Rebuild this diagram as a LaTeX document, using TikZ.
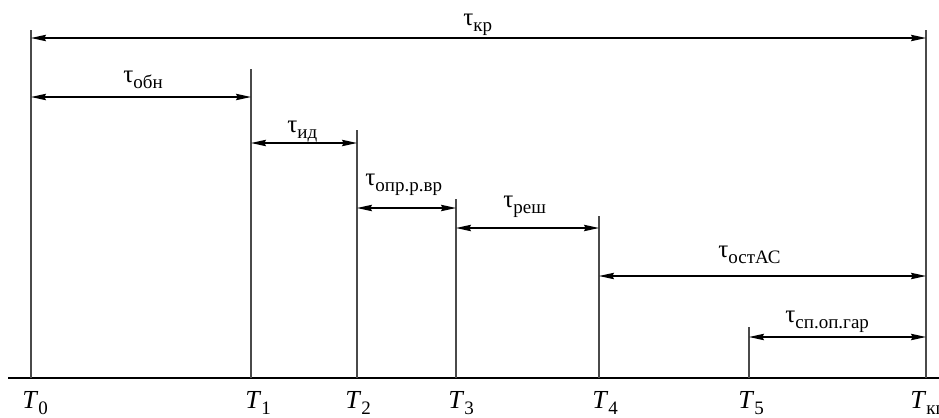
\documentclass[tikz,border=0pt]{standalone}
\usepackage{fontspec}
\setmainfont{Liberation Serif}
\usetikzlibrary{arrows.meta}
\definecolor{instantline}{HTML}{4A4A4A}
\newcommand{\lowidx}[1]{\raisebox{-0.55ex}{\fontsize{9.5}{10}\selectfont #1}}

\begin{document}
\begin{tikzpicture}[
  x=0.5pt,
  y=-0.5pt,
  line cap=butt,
  instant/.style={draw=instantline,line width=0.55pt},
  timeaxis/.style={draw=black,line width=0.8pt},
  span/.style={draw=black,line width=0.6pt,
    {Stealth[length=7.5pt,width=3.2pt,inset=0.8pt]}-{Stealth[length=7.5pt,width=3.2pt,inset=0.8pt]}},
  lbl/.style={font=\fontsize{12.5}{14}\selectfont,inner sep=0pt,anchor=base west}
]
  \useasboundingbox (0,0) rectangle (939,418);

  % time axis
  \coordinate (axL) at (8,378);
  \coordinate (axR) at (939,378);
  \draw[timeaxis] (axL) -- (axR);

  % instants T_i: name / x / top of the line / left of the label
  \foreach \n/\x/\top/\lx/\s in {0/31/30/22/0,1/251/69/245/1,2/357/130/345/2,3/456/199/448/3,
                                 4/599/216/592/4,5/749/327/738/5,kp/926/30/910/кп} {
    \coordinate (T\n) at (\x,378);
    \coordinate (T\n top) at (\x,\top);
    \draw[instant] (T\n) -- (T\n top);
    \node[lbl,font=\fontsize{13}{15}\selectfont] (lT\n) at (\lx,408) {\textit{T}\lowidx{\s}};
  }

  % durations: from / to / height / label left / label baseline / subscript
  \foreach \a/\b/\y/\lx/\ly/\s in {0/kp/38/463/25/кр,0/1/97/123/82/обн,1/2/143/287/132/ид,
                                   2/3/208/365/185/опр.р.вр,3/4/228/503/207/реш,
                                   4/kp/276/718/257/остАС,5/kp/337/785/322/сп.оп.гар} {
    \coordinate (d\a\b L) at (T\a |- 0,\y);
    \coordinate (d\a\b R) at (T\b |- 0,\y);
    \draw[span] (d\a\b L) -- (d\a\b R);
    \node[lbl] (tau\a\b) at (\lx,\ly) {τ\lowidx{\s}};
  }
\end{tikzpicture}
\end{document}
